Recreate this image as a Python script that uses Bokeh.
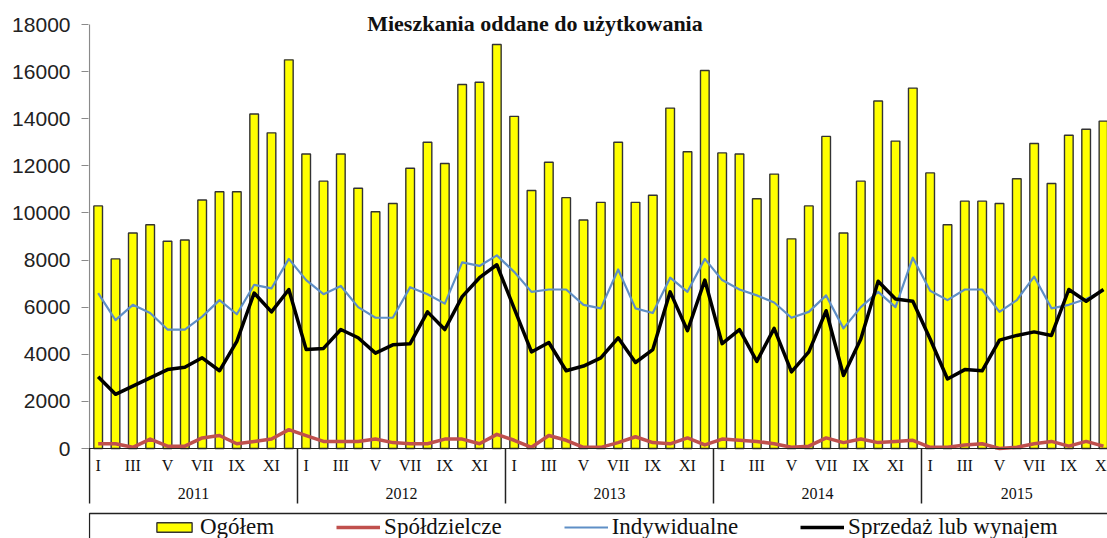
from bokeh.plotting import figure
from bokeh.models import Range1d, FixedTicker, LinearAxis, Legend, LegendItem, Label, ColumnDataSource, Span
from bokeh.embed import file_html
from bokeh.resources import INLINE
from bokeh.core.properties import value

title_text = "Mieszkania oddane do użytkowania"
months_roman = ["I", "II", "III", "IV", "V", "VI", "VII", "VIII", "IX", "X", "XI", "XII"]
years = ["2011", "2012", "2013", "2014", "2015"]
months_per_year = [12, 12, 12, 12, 11]
y_ticks = [0, 2000, 4000, 6000, 8000, 10000, 12000, 14000, 16000, 18000]

ogolem = [10300, 8050, 9150, 9500, 8800, 8850, 10550, 10900, 10900, 14200, 13400, 16500,
          12500, 11350, 12500, 11050, 10050, 10400, 11900, 13000, 12100, 15450, 15550, 17150,
          14100, 10950, 12150, 10650, 9700, 10450, 13000, 10450, 10750, 14450, 12600, 16050,
          12550, 12500, 10600, 11650, 8900, 10300, 13250, 9150, 11350, 14750, 13050, 15300,
          11700, 9500, 10500, 10500, 10400, 11450, 12950, 11250, 13300, 13550, 13900]
spoldzielcze = [200, 200, 50, 400, 100, 100, 450, 550, 200, 300, 400, 800,
                550, 300, 300, 300, 400, 250, 200, 200, 400, 400, 200, 600,
                350, 50, 550, 350, 50, 50, 250, 500, 250, 200, 450, 150,
                400, 350, 300, 200, 50, 100, 450, 250, 400, 250, 300, 350,
                50, 50, 150, 200, 0, 50, 200, 300, 100, 300, 100]
indywidualne = [6600, 5450, 6100, 5750, 5050, 5050, 5600, 6300, 5700, 6950, 6800, 8050,
                7150, 6550, 6900, 6000, 5550, 5550, 6850, 6550, 6150, 7900, 7750, 8200,
                7500, 6650, 6750, 6750, 6100, 5950, 7600, 5950, 5750, 7250, 6650, 8050,
                7150, 6750, 6500, 6200, 5550, 5800, 6500, 5100, 6000, 6650, 6000, 8100,
                6700, 6300, 6750, 6750, 5800, 6300, 7300, 5950, 6100, 6350, 6700]
sprzedaz = [3050, 2300, 2650, 3000, 3350, 3450, 3850, 3300, 4550, 6600, 5800, 6750,
            4200, 4250, 5050, 4700, 4050, 4400, 4450, 5800, 5050, 6450, 7250, 7800,
            5950, 4100, 4500, 3300, 3500, 3850, 4700, 3650, 4200, 6650, 5000, 7150,
            4450, 5050, 3700, 5100, 3250, 4100, 5850, 3100, 4650, 7100, 6350, 6250,
            4650, 2950, 3350, 3300, 4600, 4800, 4950, 4800, 6750, 6250, 6750]

n = len(ogolem)
xs = list(range(n))
src = ColumnDataSource(dict(x=xs, ogolem=ogolem, spoldzielcze=spoldzielcze,
                            indywidualne=indywidualne, sprzedaz=sprzedaz))

# month ticks (every second month) and year layout
month_ticks, month_text = [], []
year_bounds, year_centers = [], []
start = 0
for yr, cnt in zip(years, months_per_year):
    year_bounds.append(start - 0.5)
    year_centers.append(start + (cnt - 1) / 2)
    for m in range(0, cnt, 2):
        month_ticks.append(start + m)
        month_text.append(months_roman[m])
    start += cnt

# layout: plot area 424 px tall for 0..18000, category table and legend below inside the frame
W, H = 1107, 538
FRAME_LEFT = 88
ZERO_Y = 448
TOP_Y = 24
PX = (y_ticks[-1] - y_ticks[0]) / (ZERO_Y - TOP_Y)      # data units per pixel
CAT = 17.333                                             # px per category
x0 = -0.5 - (89 - FRAME_LEFT) / CAT
x1 = x0 + (W - FRAME_LEFT) / CAT

p = figure(width=W, height=H, output_backend="svg", toolbar_location=None,
           x_range=Range1d(x0, x1), y_range=Range1d(-(H - ZERO_Y) * PX, ZERO_Y * PX),
           x_axis_type=None, y_axis_type=None,
           min_border_left=FRAME_LEFT, min_border_right=0, min_border_top=0, min_border_bottom=0)
p.outline_line_color = None
p.background_fill_color = "white"
p.border_fill_color = "white"

bars = p.vbar(x="x", top="ogolem", width=0.5, bottom=0, source=src,
              fill_color="#FFFF00", line_color="#333333", line_width=1.4)
r_sp = p.line("x", "spoldzielcze", source=src, line_color="#C0504D", line_width=3.5, line_join="round")
r_in = p.line("x", "indywidualne", source=src, line_color="#5F8FC6", line_width=2.2, line_join="round")
r_sz = p.line("x", "sprzedaz", source=src, line_color="#000000", line_width=3.5, line_join="round")

# y axis (real axis, line drawn separately so it stops at the top tick)
yax = LinearAxis(ticker=FixedTicker(ticks=y_ticks))
yax.axis_line_color = None
yax.major_tick_line_color = "#8a8a8a"
yax.major_tick_out = 7
yax.major_tick_in = 0
yax.major_label_standoff = 11
yax.major_label_text_font = "Liberation Sans"
yax.major_label_text_font_size = "21px"
yax.major_label_text_color = "#222222"
p.add_layout(yax, "left")
p.segment(x0=[year_bounds[0]], y0=[y_ticks[-1]], x1=[year_bounds[0]], y1=[y_ticks[0]],
          line_color="#8a8a8a", line_width=1.2)

# category axis line
p.add_layout(Span(location=0, dimension="width", line_color="#222222", line_width=1.2))

# year separators in the category table
sep_len = 55 * PX
p.segment(x0=year_bounds, y0=[0] * len(year_bounds), x1=year_bounds,
          y1=[-sep_len] * len(year_bounds), line_color="#222222", line_width=1.5)

# month and year labels
p.text(x=month_ticks, y=[0] * len(month_ticks), text=month_text, y_offset=17,
       text_align="center", text_baseline="middle", text_font=value("Liberation Serif"),
       text_font_size=value("16px"), text_color="#111111")
p.text(x=year_centers, y=[0] * len(year_centers), text=years, y_offset=45,
       text_align="center", text_baseline="middle", text_font=value("Liberation Serif"),
       text_font_size=value("16px"), text_color="#111111")

# legend box (top and left edge visible)
p.quad(left=[year_bounds[0]], right=[x1 + 2], top=[-65 * PX], bottom=[-(H - ZERO_Y + 20) * PX],
       fill_color=None, line_color="#222222", line_width=1.3)

title = Label(x=25.2, y=y_ticks[-1] + PX, text=title_text, text_align="center", text_baseline="middle",
              text_font="Liberation Serif", text_font_style="bold", text_font_size="22px",
              text_color="#111111")
p.add_layout(title)

legend = Legend(items=[LegendItem(label="Ogółem", renderers=[bars]),
                       LegendItem(label="Spółdzielcze", renderers=[r_sp]),
                       LegendItem(label="Indywidualne", renderers=[r_in]),
                       LegendItem(label="Sprzedaż lub wynajem", renderers=[r_sz])],
                orientation="horizontal", location=(152 - FRAME_LEFT, -2), padding=0, margin=0,
                spacing=62, glyph_width=44, glyph_height=12, label_standoff=4,
                border_line_color=None, background_fill_alpha=0,
                label_text_font="Liberation Serif", label_text_font_size="23px",
                label_text_color="#111111")
p.add_layout(legend, "center")

open("out.html", "w").write(file_html(p, INLINE))
